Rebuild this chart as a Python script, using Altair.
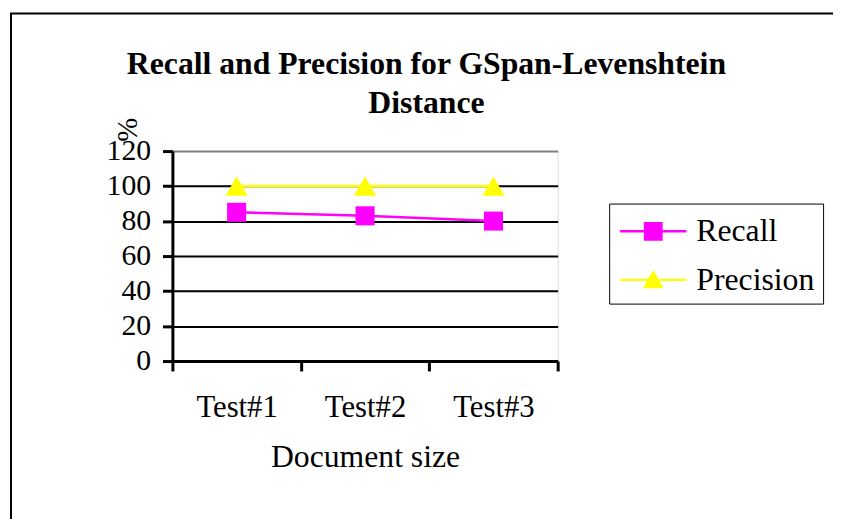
import altair as alt
import pandas as pd

tests = ["Test#1", "Test#2", "Test#3"]
recall = [85, 83, 80]
precision = [100, 100, 100]
series_names = ["Recall", "Precision"]
series_colors = ["#FF00FF", "#FFFF00"]
y_ticks = [0, 20, 40, 60, 80, 100, 120]
title_lines = ["Recall and Precision for GSpan-Levenshtein", "Distance"]

rows = []
for t, r, p in zip(tests, recall, precision):
    rows.append({"test": t, "series": "Recall", "value": r})
    rows.append({"test": t, "series": "Precision", "value": p})
df = pd.DataFrame(rows)

FONT = "Liberation Serif"
# legend key glyphs: a short line with the marker on it (unit = 20px at symbolSize 1600)
REC_PATH = "M-0.85,-0.06H2.5V0.06H-0.85Z M0.35,-0.475H1.3V0.475H0.35Z"
PRE_PATH = "M-0.85,-0.06H2.5V0.06H-0.85Z M0.825,-0.5L1.35,0.42L0.3,0.42Z"

x_enc = alt.X(
    "test:N", sort=tests,
    scale=alt.Scale(type="band", paddingInner=0, paddingOuter=0),
    axis=alt.Axis(title="Document size", tickBand="extent", labelAngle=0,
                  labelFont=FONT, labelFontSize=31, labelColor="black",
                  labelPadding=22, titleFont=FONT, titleFontSize=32,
                  titleFontWeight="normal", titleColor="black", titlePadding=19,
                  domainColor="black", domainWidth=3, tickColor="black",
                  tickWidth=3, tickSize=10, grid=False),
)
y_enc = alt.Y(
    "value:Q",
    scale=alt.Scale(domain=[0, 120], nice=False, zero=True),
    axis=alt.Axis(values=y_ticks, title="%", grid=True,
                  gridColor={"condition": {"test": "datum.value === 120", "value": "#808080"},
                             "value": "black"},
                  gridWidth=2, labelFont=FONT, labelFontSize=30, labelColor="black",
                  labelPadding=12, titleFont=FONT, titleFontSize=29,
                  titleFontWeight="normal", titleColor="black", titleAngle=270,
                  titleX=-45, titleY=-22, titleAlign="center", titleBaseline="middle",
                  domainColor="black", domainWidth=3, tickColor="black",
                  tickWidth=3, tickSize=10),
)
color_enc = alt.Color(
    "series:N",
    scale=alt.Scale(domain=series_names, range=series_colors),
    legend=alt.Legend(
        title=None, orient="none", legendX=441, legendY=53,
        strokeColor="black", padding=8, labelFont=FONT, labelFontSize=32,
        labelColor="black", symbolSize=1600,
        symbolStrokeWidth=0, symbolOpacity=1,
        labelOffset=40, rowPadding=13,
    ),
)

base = alt.Chart(df)
legend_keys = base.mark_point(filled=True, opacity=1, size=1).encode(
    x=x_enc, y=y_enc, color=color_enc,
    shape=alt.Shape("series:N",
                    scale=alt.Scale(domain=series_names, range=[REC_PATH, PRE_PATH])),
)
lines = base.mark_line(strokeWidth=2.5).encode(x=x_enc, y=y_enc, color=color_enc)
squares = base.transform_filter(alt.datum.series == "Recall").mark_square(
    opacity=1, size=370
).encode(x=x_enc, y=y_enc, color=color_enc)
triangles = base.transform_filter(alt.datum.series == "Precision").mark_point(
    shape="triangle-up", filled=True, opacity=1, size=500
).encode(x=x_enc, y=y_enc, color=color_enc)
frame = alt.Chart(pd.DataFrame({"a": [0]})).mark_rect(
    fill="transparent", stroke="black", strokeWidth=2
).encode(x=alt.value(-163), x2=alt.value(800), y=alt.value(-139), y2=alt.value(500))

chart = alt.layer(frame, legend_keys, lines, squares, triangles).properties(
    width=389, height=212,
    autosize=alt.AutoSizeParams(type="none"),
    padding={"left": 166, "top": 142, "right": 278, "bottom": 157},
    title=alt.TitleParams(text=title_lines, font=FONT, fontSize=32, fontWeight="bold",
                          color="black", anchor="middle", dx=62, offset=-109, lineHeight=40),
).configure_view(
    fill="#C0C0C0", stroke="#808080", strokeWidth=2
).configure_legend(
    strokeWidth=2
).configure(background="white")

chart.save("out.html", embed_options={"renderer": "svg", "actions": False})
